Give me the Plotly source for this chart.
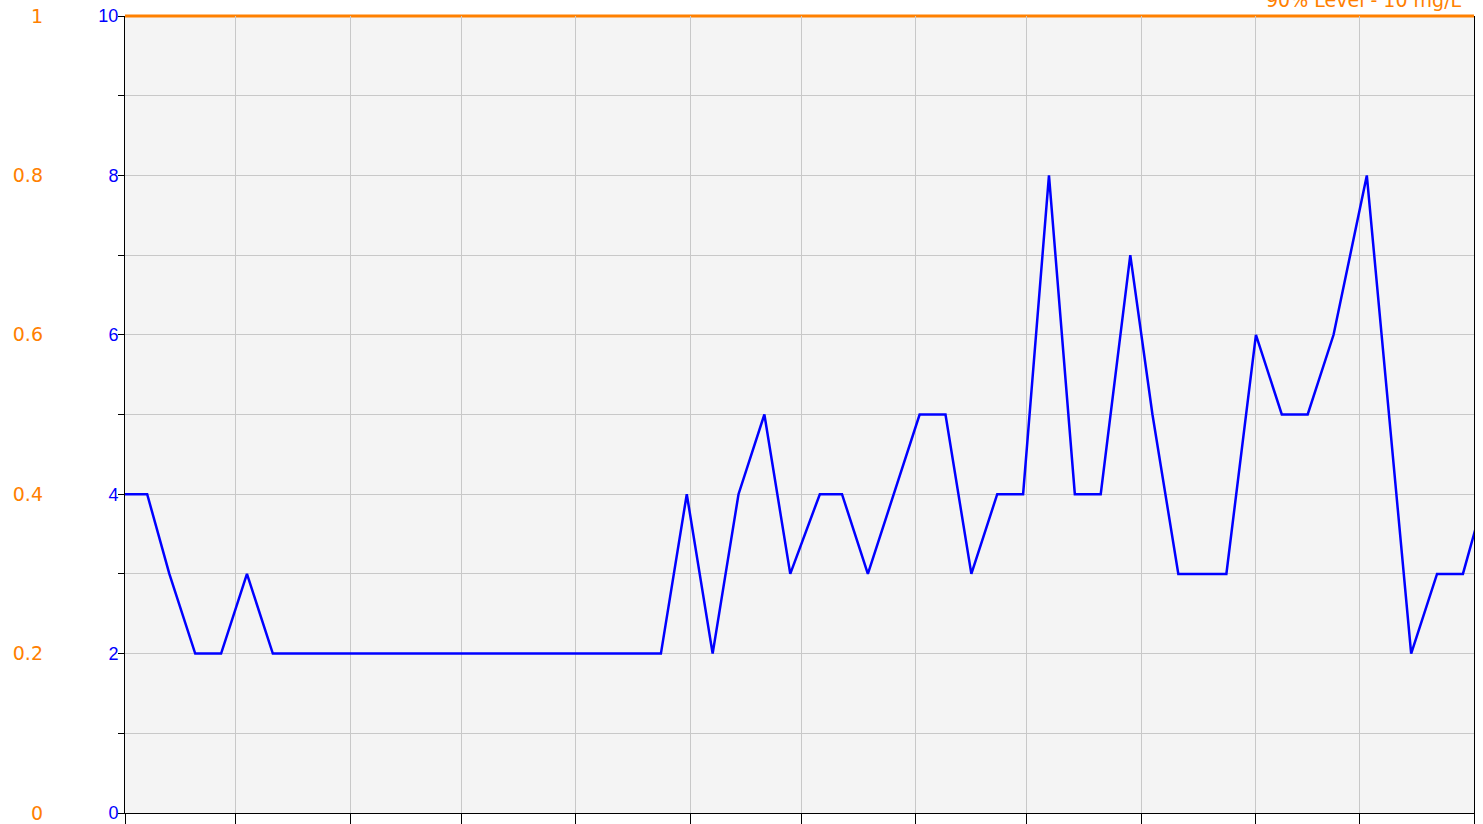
import plotly.graph_objects as go

# ---- data ----
sample_dates = [
    "2014-03-31", "2014-04-07", "2014-04-13", "2014-04-20", "2014-04-27",
    "2014-05-04", "2014-05-11", "2014-05-18", "2014-05-25", "2014-06-01",
    "2014-06-08", "2014-06-15", "2014-06-22", "2014-06-29", "2014-07-06",
    "2014-07-13", "2014-07-20", "2014-07-27", "2014-08-03", "2014-08-10",
    "2014-08-17", "2014-08-24", "2014-08-31", "2014-09-07", "2014-09-14",
    "2014-09-21", "2014-09-28", "2014-10-06", "2014-10-12", "2014-10-19",
    "2014-10-26", "2014-11-02", "2014-11-09", "2014-11-16", "2014-11-23",
    "2014-11-30", "2014-12-07", "2014-12-14", "2014-12-21", "2014-12-29",
    "2015-01-04", "2015-01-11", "2015-01-18", "2015-01-24", "2015-02-01",
    "2015-02-08", "2015-02-15", "2015-02-22", "2015-03-03", "2015-03-09",
    "2015-03-15", "2015-03-22", "2015-03-29", "2015-04-04",
]
nitrate_mg_l = [
    4, 4, 3, 2, 2,
    3, 2, 2, 2, 2,
    2, 2, 2, 2, 2,
    2, 2, 2, 2, 2,
    2, 2, 4, 2, 4,
    5, 3, 4, 4, 3,
    4, 5, 5, 3, 4,
    4, 8, 4, 4, 7,
    5, 3, 3, 3, 6,
    5, 5, 6, 8, 5,
    2, 3, 3, 4,
]

level_label = "90% Level - 10 mg/L"
level_value = 10

x_range = ["2014-04-01", "2015-04-01"]
y_range = [0, 10]
y_tickvals = list(range(0, 11))
y_ticktext = [str(v) if v % 2 == 0 else "" for v in y_tickvals]
y2_range = [0, 1]
y2_tickvals = [0, 0.2, 0.4, 0.6, 0.8, 1]
y2_ticktext = ["0", "0.2", "0.4", "0.6", "0.8", "1"]

# ---- style ----
BLUE = "#0000ff"
ORANGE = "#ff8000"
GRID = "#c8c8c8"
W, H = 1483, 824
ML, MR, MT, MB = 0, 9, 16, 7
PLOT_LEFT_PX = 125
ORANGE_AXIS_PX = 43
paper_w = W - ML - MR

fig = go.Figure()

fig.add_trace(go.Scatter(
    x=sample_dates, y=nitrate_mg_l, mode="lines",
    line=dict(color=BLUE, width=2.5), showlegend=False,
    hovertemplate="%{x|%d %b %Y}: %{y} mg/L<extra></extra>",
))

# placeholder trace so the secondary (orange) axis is drawn
fig.add_trace(go.Scatter(
    x=[x_range[0]], y=[y2_range[0]], yaxis="y2", mode="lines",
    hoverinfo="skip", showlegend=False,
))

# 90% level line
fig.add_shape(
    type="line", xref="x domain", x0=0, x1=1,
    yref="y domain", y0=level_value / y_range[1], y1=level_value / y_range[1],
    line=dict(color=ORANGE, width=3), layer="below",
)
fig.add_annotation(
    x=x_range[1], y=level_value, xref="x", yref="y",
    text=level_label, showarrow=False, xanchor="right", yanchor="bottom",
    xshift=-10, yshift=3,
    font=dict(family="DejaVu Sans", size=19, color=ORANGE),
)

fig.update_layout(
    width=W, height=H,
    margin=dict(l=ML, r=MR, t=MT, b=MB, pad=0),
    paper_bgcolor="white", plot_bgcolor="#f4f4f4",
    showlegend=False,
    xaxis=dict(
        type="date", range=x_range,
        domain=[(PLOT_LEFT_PX - ML) / paper_w, 1],
        tick0=x_range[0], dtick="M1",
        ticks="outside", ticklen=10, tickcolor="black", tickwidth=1,
        showticklabels=False,
        showline=True, linecolor="black", linewidth=1,
        showgrid=True, gridcolor=GRID, gridwidth=1,
        zeroline=False,
    ),
    yaxis=dict(
        range=y_range, tickmode="array",
        tickvals=y_tickvals, ticktext=y_ticktext,
        ticks="outside", ticklen=6, tickcolor="black", tickwidth=1,
        ticklabelstandoff=-4, ticklabeloverflow="allow",
        tickfont=dict(family="Liberation Sans, Arial", size=18, color=BLUE),
        showline=True, linecolor="black", linewidth=1, mirror=True,
        showgrid=True, gridcolor=GRID, gridwidth=1,
        zeroline=False,
    ),
    yaxis2=dict(
        range=y2_range, overlaying="y", anchor="free", side="left",
        position=(ORANGE_AXIS_PX - ML) / paper_w,
        tickmode="array", tickvals=y2_tickvals, ticktext=y2_ticktext,
        ticks="", showline=False, showgrid=False, zeroline=False,
        ticklabeloverflow="allow",
        tickfont=dict(family="DejaVu Sans", size=19, color=ORANGE),
    ),
)

fig.write_html(
    "out.html",
    config={"displayModeBar": False},
    post_script="document.body.style.margin='0';document.body.style.overflow='hidden';",
)
